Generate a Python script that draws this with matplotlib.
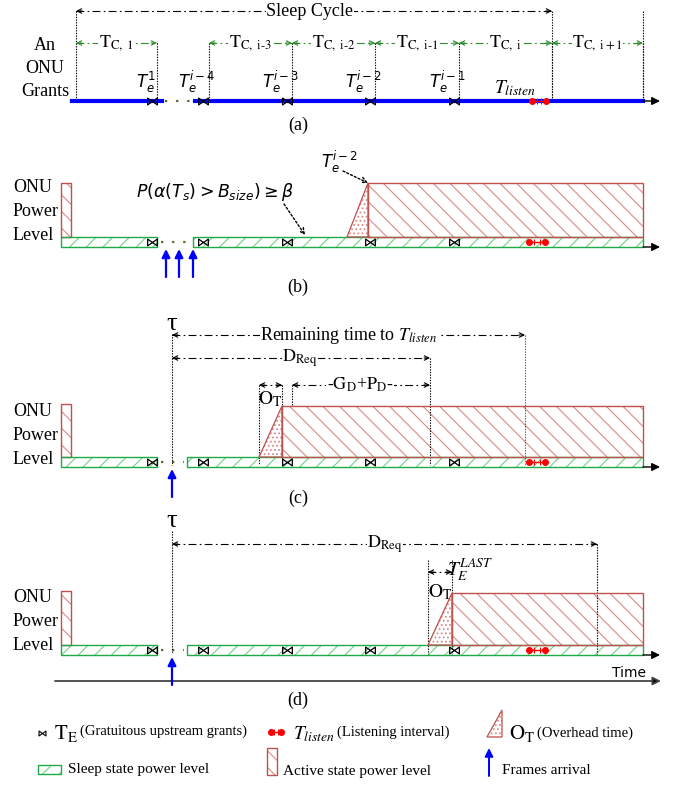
import matplotlib
matplotlib.use("Agg")
import matplotlib.pyplot as plt
from matplotlib.patches import Rectangle, Polygon
from matplotlib.path import Path

plt.rcParams['font.family'] = ['Liberation Serif', 'DejaVu Serif']
plt.rcParams['mathtext.fontset'] = 'stix'
plt.rcParams['hatch.linewidth'] = 0.8

# ---------------- data ----------------
cycle_bounds = [(76, 157), (209, 292), (292, 375), (375, 459), (459, 552), (552, 643)]
cycle_labels = [r'$\mathrm{T_{C,\ 1}}$', r'$\mathrm{T_{C,\ i\text{-}3}}$', r'$\mathrm{T_{C,\ i\text{-}2}}$',
                r'$\mathrm{T_{C,\ i\text{-}1}}$', r'$\mathrm{T_{C,\ i}}$', r'$\mathrm{T_{C,\ i+1}}$']
grant_x = [152, 203, 287, 370, 454]
grant_labels = [r'$T_e^{1}$', r'$T_e^{i-4}$', r'$T_e^{i-3}$', r'$T_e^{i-2}$', r'$T_e^{i-1}$']
listen_x = [532, 546]
sleep_cycle = (76, 552)
gap_b = (157, 193)
gap_cd = (157, 187)
arrivals_b = [166, 179, 193]
arrival_cd = 172
# panel baselines (top of sleep bar) and active-rect tops
base_y = {'b': 237, 'c': 457, 'd': 645}
active_top = {'b': 183, 'c': 406, 'd': 593}
active_start = {'b': 368, 'c': 282, 'd': 452}
ramp_start = {'b': 347, 'c': 259, 'd': 428}
tall_top = {'b': 183, 'c': 404, 'd': 591}
x_end = 643

GREEN_E = '#1faa45'
GREEN_H = '#6fd08a'
RED_E = '#c0504d'
RED_H = '#d98a88'
DGREEN = '#2e8b2e'

fig = plt.figure(figsize=(6.77, 7.85), dpi=100)
ax = fig.add_axes([0, 0, 1, 1])
ax.set_xlim(0, 677)
ax.set_ylim(785, 0)
ax.axis('off')

bt_path = Path([(-1, 0.7), (0, 0), (-1, -0.7), (-1, 0.7), (1, 0.7), (0, 0), (1, -0.7), (1, 0.7)],
               [Path.MOVETO, Path.LINETO, Path.LINETO, Path.CLOSEPOLY,
                Path.MOVETO, Path.LINETO, Path.LINETO, Path.CLOSEPOLY])

DD = (0, (7, 3, 1.5, 3))


def head(x, y, direction, color='k'):
    ax.annotate('', xy=(x, y), xytext=(x - 6 * direction, y),
                arrowprops=dict(arrowstyle='->', color=color, lw=0.8, mutation_scale=8,
                                shrinkA=0, shrinkB=0))


def dd_arrow(x0, x1, y, color='k', left=True, right=True):
    ax.plot([x0, x1], [y, y], ls=DD, color=color, lw=0.8)
    if left:
        head(x0, y, -1, color)
    if right:
        head(x1, y, 1, color)


def vdot(x, y0, y1, color='k'):
    ax.plot([x, x], [y0, y1], ls=(0, (1.2, 1.2)), color=color, lw=0.8)


def label(x, y, s, size=13, **kw):
    ax.text(x, y, s, fontsize=size, ha='center', va='center',
            bbox=dict(facecolor='white', edgecolor='none', pad=0.5), **kw)


def grants(y, ms=7):
    ax.plot(grant_x, [y] * len(grant_x), ls='none', marker=bt_path, ms=ms, mfc='none',
            mec='k', mew=0.9, zorder=6)


def listen(x0, x1, y):
    ax.plot([x0, x1], [y, y], color='red', lw=1.0, zorder=6)
    ax.plot([x0, x1], [y, y], ls='none', marker='o', ms=4, color='red', zorder=6)
    ax.plot([x0 + (x1 - x0) / 3, x0 + 2 * (x1 - x0) / 3], [y, y], ls='none', marker='|',
            ms=5, color='red', mew=0.8, zorder=6)


def hatched_rect(x0, y0, x1, y1, kind):
    if kind == 'green':
        ec, hc, h = GREEN_E, GREEN_H, '//'
    else:
        ec, hc, h = RED_E, RED_H, '\\\\'
    ax.add_patch(Rectangle((x0, y0), x1 - x0, y1 - y0, facecolor='white', edgecolor=hc,
                           hatch=h, lw=0, zorder=2))
    ax.add_patch(Rectangle((x0, y0), x1 - x0, y1 - y0, facecolor='none', edgecolor=ec,
                           lw=1.0, zorder=3))


def ramp(x0, x1, ytop, ybot):
    ax.add_patch(Polygon([(x0, ybot), (x1, ytop), (x1, ybot)], closed=True, facecolor='white',
                         edgecolor=RED_H, hatch='....', lw=0, zorder=2))
    ax.add_patch(Polygon([(x0, ybot), (x1, ytop), (x1, ybot)], closed=True, facecolor='none',
                         edgecolor=RED_E, lw=0.9, zorder=3))


def blue_arrow(x, y0, y1, lw=1.6):
    ax.annotate('', xy=(x, y1), xytext=(x, y0),
                arrowprops=dict(arrowstyle='-|>', color='blue', lw=lw, mutation_scale=12,
                                shrinkA=0, shrinkB=0), zorder=7)


def axis_arrow(x0, x1, y, color='k', lw=1.0):
    ax.annotate('', xy=(x1, y), xytext=(x0, y),
                arrowprops=dict(arrowstyle='-|>', color=color, lw=lw, mutation_scale=12,
                                shrinkA=0, shrinkB=0))


def power_text(y0):
    for i, s in enumerate(['ONU', 'Power', 'Level']):
        ax.text(13, y0 + i * 23.5, s, fontsize=13, ha='left', va='center')


def power_panel(key, gap, arrivals):
    yb = base_y[key]
    hatched_rect(61, tall_top[key], 71, yb, 'red')
    hatched_rect(61, yb, gap[0], yb + 10, 'green')
    hatched_rect(gap[1], yb, x_end, yb + 10, 'green')
    ax.plot([gap[0] + 4, gap[1] - 3], [yb + 5, yb + 5], ls=(0, (1, 4)), color='#556b2f', lw=1.6)
    hatched_rect(active_start[key], active_top[key], x_end, yb, 'red')
    ramp(ramp_start[key], active_start[key], active_top[key], yb)
    grants(yb + 5)
    listen(listen_x[0] - 3, listen_x[1] - 1, yb + 5)
    axis_arrow(x_end, 660, yb + 10)
    for a in arrivals:
        blue_arrow(a, yb + 40, yb + 12)


# ---------------- panel (a) ----------------
ya = 101
dd_arrow(sleep_cycle[0], sleep_cycle[1], 11)
label(310, 11, 'Sleep Cycle', size=13)
vdot(sleep_cycle[0], 11, ya)
vdot(sleep_cycle[1], 11, ya)
vdot(x_end, 11, ya)
for (x0, x1), s in zip(cycle_bounds, cycle_labels):
    dd_arrow(x0, x1, 43, color=DGREEN)
    label((x0 + x1) / 2, 43, s, size=13)
    vdot(x1, 43, ya)
vdot(cycle_bounds[1][0], 43, ya)
ax.plot([72, 162], [ya, ya], color='blue', lw=3)
ax.plot([195, x_end], [ya, ya], color='blue', lw=3)
ax.plot([165, 192], [ya, ya], ls=(0, (1, 4)), color='#556b2f', lw=1.6)
axis_arrow(x_end, 660, ya)
grants(ya)
listen(listen_x[0], listen_x[1], ya)
for gx, s in zip(grant_x, grant_labels):
    ax.text(gx - 6, 82, s, fontsize=12, ha='center', va='center', math_fontfamily='dejavusans')
ax.text(515, 88, r'$T_{listen}$', fontsize=14, ha='center', va='center')
for i, s in enumerate(['An', 'ONU', 'Grants']):
    ax.text(45, 46 + i * 22.5, s, fontsize=13, ha='center', va='center')
ax.text(298, 125, '(a)', fontsize=13, ha='center', va='center')

# ---------------- panel (b) ----------------
power_text(188)
power_panel('b', gap_b, arrivals_b)
ax.text(215, 192, r'$P(\alpha(T_s) > B_{size}) \geq \beta$', fontsize=12.5, ha='center', va='center',
        math_fontfamily='dejavusans')
ax.annotate('', xy=(305, 235), xytext=(284, 204),
            arrowprops=dict(arrowstyle='->', ls=(0, (1.5, 1.5)), lw=1.0, color='k',
                            shrinkA=0, shrinkB=0))
ax.text(340, 162, r'$T_e^{i-2}$', fontsize=12, ha='center', va='center', math_fontfamily='dejavusans')
ax.annotate('', xy=(368, 183), xytext=(343, 171),
            arrowprops=dict(arrowstyle='->', ls=(0, (1.5, 1.5)), lw=1.0, color='k',
                            shrinkA=0, shrinkB=0))
ax.text(298, 287, '(b)', fontsize=13, ha='center', va='center')

# ---------------- panel (c) ----------------
power_text(412)
power_panel('c', gap_cd, [arrival_cd])
ax.text(arrival_cd, 324, '\u03c4', fontsize=19, ha='center', va='center')
vdot(arrival_cd, 334, 465)
dd_arrow(arrival_cd, 525, 335)
label(349, 335, r'Remaining time to $T_{listen}$', size=13)
vdot(525, 335, 465, color='#555555')
dd_arrow(arrival_cd, 430, 358)
label(300, 358, r'$\mathrm{D_{Req}}$', size=13)
vdot(430, 358, 465)
dd_arrow(259, 282, 385)
vdot(259, 385, 465)
vdot(282, 385, 465)
ax.text(270, 399, r'$\mathrm{O_T}$', fontsize=14, ha='center', va='center')
dd_arrow(292, 430, 385, left=True)
vdot(292, 385, 405)
label(360, 385, r'-$\mathrm{G_D}$+$\mathrm{P_D}$-', size=13)
ax.text(298, 498, '(c)', fontsize=13, ha='center', va='center')

# ---------------- panel (d) ----------------
power_text(598)
power_panel('d', gap_cd, [arrival_cd])
ax.text(arrival_cd, 521, '\u03c4', fontsize=19, ha='center', va='center')
vdot(arrival_cd, 531, 653)
dd_arrow(arrival_cd, 597, 544)
label(385, 544, r'$\mathrm{D_{Req}}$', size=13)
vdot(597, 544, 654)
dd_arrow(428, 452, 572)
vdot(428, 560, 654)
vdot(452, 560, 654)
ax.text(470, 570, r'$T_E^{LAST}$', fontsize=14, ha='center', va='center')
ax.text(440, 592, r'$\mathrm{O_T}$', fontsize=14, ha='center', va='center')
ax.annotate('', xy=(661, 681), xytext=(55, 681),
            arrowprops=dict(arrowstyle='-|>', color='k', lw=1.3, mutation_scale=12,
                            shrinkA=0, shrinkB=0, ec='#444444', fc='k'))
ax.text(646, 673, 'Time', fontsize=10, ha='right', va='center', family='DejaVu Sans')
ax.text(298, 700, '(d)', fontsize=13, ha='center', va='center')

# ---------------- legend ----------------
ax.plot([42], [733], ls='none', marker=bt_path, ms=5, mfc='none', mec='k', mew=0.8)
ax.text(54, 734, r'$\mathrm{T_E}$', fontsize=15, ha='left', va='center')
ax.text(80, 731, '(Gratuitous upstream grants)', fontsize=10.5, ha='left', va='center')
listen(271, 281, 732)
ax.text(293, 734, r'$T_{listen}$', fontsize=14, ha='left', va='center')
ax.text(337, 732, '(Listening interval)', fontsize=10.5, ha='left', va='center')
ramp(487, 502, 710, 737)
ax.text(509, 734, r'$\mathrm{O_T}$', fontsize=15, ha='left', va='center')
ax.text(537, 733, '(Overhead time)', fontsize=10.5, ha='left', va='center')
hatched_rect(38, 765, 61, 774, 'green')
ax.text(68, 770, 'Sleep state power level', fontsize=11, ha='left', va='center')
hatched_rect(267, 748, 277, 775, 'red')
ax.text(283, 771, 'Active state power level', fontsize=11, ha='left', va='center')
blue_arrow(489, 776, 748, lw=1.4)
ax.text(502, 770, 'Frames arrival', fontsize=11, ha='left', va='center')

fig.savefig('out.png', dpi=100)
